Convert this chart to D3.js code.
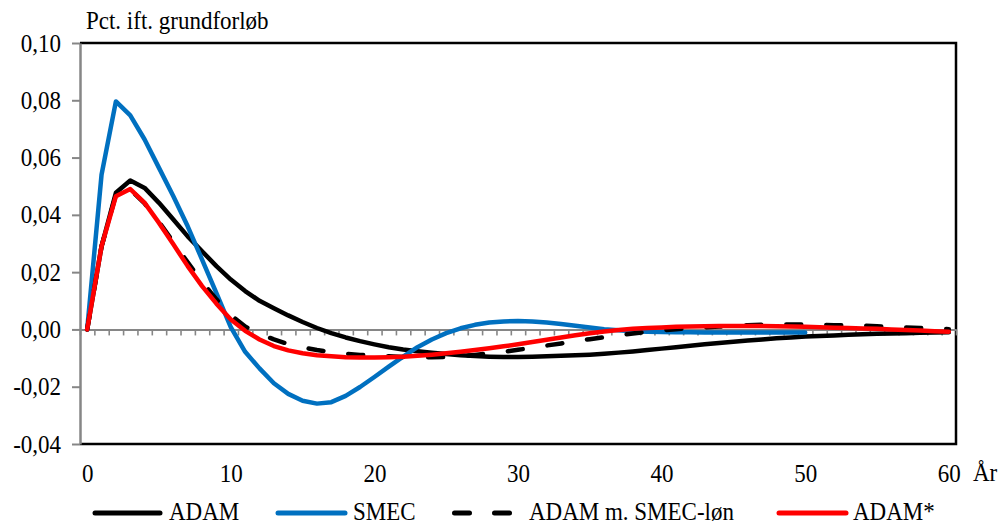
<!DOCTYPE html>
<html>
<head>
<meta charset="utf-8">
<script src="https://cdn.jsdelivr.net/npm/d3@7"></script>
<style>
  html, body { margin: 0; padding: 0; background: #fff; }
  svg { display: block; }
  text { font-family: "Liberation Serif", "Times New Roman", serif; fill: #000; }
</style>
</head>
<body>
<svg id="chart" width="998" height="526"></svg>
<script>
// Response in percent relative to baseline, years 0..60
const years = [0,1,2,3,4,5,6,7,8,9,10,11,12,13,14,15,16,17,18,19,20,
  21,22,23,24,25,26,27,28,29,30,31,32,33,34,35,36,37,38,39,40,
  41,42,43,44,45,46,47,48,49,50,51,52,53,54,55,56,57,58,59,60];

const adam = [0, 0.0290, 0.0477, 0.0520, 0.0494, 0.0442, 0.0384, 0.0325, 0.0273, 0.0221,
  0.0174, 0.0134, 0.0100, 0.0074, 0.0049, 0.0026, 0.0005, -0.0013, -0.0028, -0.0041,
  -0.0052, -0.0062, -0.0070, -0.0076, -0.0081, -0.0086, -0.0090, -0.0093, -0.0095, -0.0096,
  -0.0096, -0.0095, -0.0094, -0.0092, -0.0090, -0.0088, -0.0085, -0.0081, -0.0077, -0.0072,
  -0.0067, -0.0062, -0.0057, -0.0052, -0.0047, -0.0043, -0.0039, -0.0035, -0.0031, -0.0028,
  -0.0025, -0.0023, -0.0021, -0.0019, -0.0017, -0.0015, -0.0014, -0.0013, -0.0012, -0.0011,
  -0.0010];

// SMEC runs to year 50
const smec = [0, 0.0540, 0.0796, 0.0747, 0.0663, 0.0564, 0.0465, 0.0360, 0.0244, 0.0127,
  0.0008, -0.0078, -0.0136, -0.0188, -0.0225, -0.0249, -0.0259, -0.0254, -0.0232, -0.0201,
  -0.0166, -0.0130, -0.0095, -0.0062, -0.0035, -0.0013, 0.0004, 0.0016, 0.0024, 0.0028,
  0.0029, 0.0028, 0.0024, 0.0019, 0.0013, 0.0007, 0.0001, -0.0003, -0.0006, -0.0008,
  -0.0009, -0.0010, -0.0010, -0.0011, -0.0011, -0.0011, -0.0011, -0.0011, -0.0011, -0.0011,
  -0.0011];

const adamSmecWage = [0, 0.0290, 0.0470, 0.0488, 0.0440, 0.0375, 0.0305, 0.0234, 0.0166, 0.0105,
  0.0050, 0.0010, -0.0015, -0.0035, -0.0051, -0.0063, -0.0072, -0.0079, -0.0085, -0.0089,
  -0.0092, -0.0094, -0.0096, -0.0097, -0.0097, -0.0096, -0.0093, -0.0089, -0.0084, -0.0078,
  -0.0071, -0.0064, -0.0056, -0.0049, -0.0041, -0.0034, -0.0027, -0.0020, -0.0014, -0.0008,
  -0.0003, 0.0001, 0.0004, 0.0007, 0.0010, 0.0013, 0.0015, 0.0016, 0.0017, 0.0017,
  0.0017, 0.0016, 0.0015, 0.0014, 0.0013, 0.0011, 0.0009, 0.0007, 0.0005, 0.0003,
  0.0001];

const adamStar = [0, 0.0290, 0.0465, 0.0490, 0.0442, 0.0372, 0.0297, 0.0221, 0.0151, 0.0090,
  0.0035, -0.0005, -0.0035, -0.0058, -0.0073, -0.0083, -0.0090, -0.0094, -0.0097, -0.0098,
  -0.0098, -0.0097, -0.0095, -0.0092, -0.0088, -0.0083, -0.0078, -0.0072, -0.0066, -0.0059,
  -0.0052, -0.0044, -0.0036, -0.0028, -0.0020, -0.0013, -0.0007, -0.0002, 0.0002, 0.0005,
  0.0007, 0.0009, 0.0010, 0.0011, 0.0012, 0.0012, 0.0012, 0.0012, 0.0011, 0.0010,
  0.0009, 0.0008, 0.0006, 0.0005, 0.0003, 0.0002, 0.0000, -0.0002, -0.0004, -0.0006,
  -0.0008];

const seriesNames = ["ADAM", "SMEC", "ADAM m. SMEC-løn", "ADAM*"];
const seriesColors = ["#000000", "#0070C0", "#000000", "#FF0000"];
const seriesDash = [null, null, "15,25", null];

const yTicks = [-0.04, -0.02, 0.00, 0.02, 0.04, 0.06, 0.08, 0.10];
const xTicks = [0, 10, 20, 30, 40, 50, 60];
const yTitle = "Pct. ift. grundforløb";
const xTitle = "År";

const svg = d3.select("#chart");
const FS = 23;           // font size
const VS = 1.1;          // vertical text stretch

const plotL = 80, plotR = 956, plotT = 43, plotB = 444;
const x = d3.scaleLinear().domain([-0.5, 60.5]).range([plotL, plotR]);
const y = d3.scaleLinear().domain([-0.04, 0.10]).range([plotB, plotT]);

const locale = d3.formatLocale({decimal: ",", thousands: ".", grouping: [3], currency: ["", ""], minus: "-"});
const fmt = locale.format(".2f");

// frame: top, right, bottom in black
svg.append("path")
  .attr("d", `M${plotL},${plotT}H${plotR}V${plotB}H${plotL}`)
  .attr("fill", "none").attr("stroke", "#000").attr("stroke-width", 2.5);

// y axis (grey) with outward ticks
const yAxis = svg.append("g")
  .attr("transform", `translate(${plotL},0)`)
  .call(d3.axisLeft(y).tickValues(yTicks).tickFormat(fmt).tickSize(8).tickPadding(11).tickSizeOuter(0));
yAxis.select(".domain").attr("stroke", "#868686").attr("stroke-width", 2.5);
yAxis.selectAll(".tick line").attr("stroke", "#868686").attr("stroke-width", 2);
yAxis.selectAll(".tick text")
  .style("font-size", FS + "px").style("font-family", '"Liberation Serif", serif')
  .attr("fill", "#000")
  .attr("transform", `scale(1,${VS})`);

// zero line with yearly minor ticks between categories
const boundaries = d3.range(-0.5, 60.6, 1);
const zAxis = svg.append("g")
  .attr("transform", `translate(0,${y(0)})`)
  .call(d3.axisBottom(x).tickValues(boundaries).tickFormat("").tickSize(6).tickSizeOuter(0));
zAxis.select(".domain").attr("stroke", "#868686").attr("stroke-width", 2);
zAxis.selectAll(".tick line").attr("stroke", "#868686").attr("stroke-width", 1.6);

// category labels along the bottom
const xAxis = svg.append("g")
  .attr("transform", `translate(0,473)`)
  .call(d3.axisBottom(x).tickValues(xTicks).tickFormat(d3.format("d")).tickSize(0).tickPadding(0));
xAxis.select(".domain").remove();
xAxis.selectAll(".tick text")
  .attr("y", 0).attr("dy", "0.34em")
  .style("font-size", FS + "px").style("font-family", '"Liberation Serif", serif')
  .attr("fill", "#000")
  .attr("transform", `scale(1,${VS})`);

// titles
function label(txt, px, py, anchor) {
  svg.append("text")
    .attr("transform", `translate(${px},${py}) scale(1,${VS})`)
    .attr("text-anchor", anchor || "start")
    .style("font-size", FS + "px")
    .text(txt);
}
label(yTitle, 86, 29);
label(xTitle, 973, 481);

// series lines
const allSeries = [adam, smec, adamSmecWage, adamStar];
const line = d3.line()
  .defined(d => d.v !== null && d.v !== undefined)
  .x(d => x(d.t))
  .y(d => y(d.v));

allSeries.forEach((vals, i) => {
  const pts = years.map((t, k) => ({t: t, v: k < vals.length ? vals[k] : null}));
  const p = svg.append("path")
    .datum(pts)
    .attr("d", line)
    .attr("fill", "none")
    .attr("stroke", seriesColors[i])
    .attr("stroke-width", 4.5)
    .attr("stroke-linejoin", "round")
    .attr("stroke-linecap", "round");
  if (seriesDash[i]) p.attr("stroke-dasharray", seriesDash[i]);
});

// legend
const legendSamples = [[95, 160], [278, 345], [454.5, 510], [779, 846]];
const legendText = [169, 353, 529, 853];
const ly = 513;
seriesNames.forEach((name, i) => {
  const s = svg.append("line")
    .attr("x1", legendSamples[i][0]).attr("x2", legendSamples[i][1])
    .attr("y1", ly).attr("y2", ly)
    .attr("stroke", seriesColors[i]).attr("stroke-width", 5)
    .attr("stroke-linecap", "round");
  if (seriesDash[i]) s.attr("stroke-dasharray", seriesDash[i]);
  label(name, legendText[i], 520);
});
</script>
</body>
</html>
